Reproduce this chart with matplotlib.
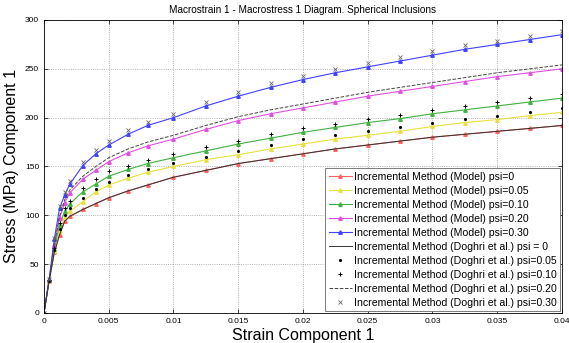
import matplotlib
matplotlib.use('Agg')
import matplotlib.pyplot as plt

plt.rcParams['font.family'] = ['Liberation Sans', 'DejaVu Sans']

# Strain points
strain = [0, 0.0004, 0.0008, 0.0012, 0.0016, 0.002, 0.003, 0.004, 0.005, 0.0065, 0.008,
          0.01, 0.0125, 0.015, 0.0175, 0.02, 0.0225, 0.025, 0.0275, 0.03, 0.0325, 0.035,
          0.0375, 0.04]

# Incremental Method (Model)
model_psi0 = [0, 33, 62, 80, 94, 99, 106, 112, 118, 125, 131, 139, 146, 153, 158, 163, 168,
              172, 176, 180, 183, 186, 189, 192]
model_psi005 = [0, 33, 63, 84, 98, 104, 114, 124, 131, 138, 144, 150, 157, 162, 168, 173, 178,
                182, 186, 191, 195, 198, 202, 205.5]
model_psi010 = [0, 34, 66, 90, 104, 112, 124, 132, 140, 147, 153, 159, 166, 173, 179, 185, 190,
                195, 199, 204, 208, 212, 216, 220]
model_psi020 = [0, 34, 70, 97, 113, 123, 137, 146, 155, 164, 171, 178, 188, 197, 204, 210, 216,
                222, 227, 232, 237, 242, 246, 250]
model_psi030 = [0, 35, 76, 107, 121, 132, 151, 163, 172, 183, 192, 200, 212, 222, 231, 239, 246,
                252, 258, 264, 270, 275, 280, 285]

# Incremental Method (Doghri et al.)
doghri_psi0 = [0, 33, 62, 80, 94, 99, 106, 112, 118, 125, 131, 139, 146, 153, 158, 163, 168,
               172, 176, 180, 183, 186, 189, 192]
doghri_psi005 = [0, 33, 64, 86, 100, 107, 118, 127, 134, 141, 147, 154, 160, 166, 172, 178, 182,
                 186, 190, 195, 199, 202, 206, 209.5]
doghri_psi010 = [0, 34, 67, 92, 107, 115, 128, 137, 145, 151, 157, 163, 170, 176, 183, 189, 194,
                 199, 203, 208, 212, 216, 220, 224]
doghri_psi020 = [0, 34, 71, 99, 116, 126, 140, 150, 159, 168, 175, 182, 192, 201, 208, 214, 220,
                 226, 231, 236, 241, 246, 250, 254]
doghri_psi030 = [0, 35, 77, 110, 124, 135, 155, 167, 176, 187, 196, 204, 216, 226, 235, 243, 250,
                 256, 262, 268, 274, 279, 284, 289]

xticks = [0, 0.005, 0.01, 0.015, 0.02, 0.025, 0.03, 0.035, 0.04]
xticklabels = ['0', '0.005', '0.01', '0.015', '0.02', '0.025', '0.03', '0.035', '0.04']
yticks = [0, 50, 100, 150, 200, 250, 300]

fig = plt.figure(figsize=(5.69, 3.43), dpi=100)
ax = fig.add_axes([0.0773, 0.0875, 0.9104, 0.8542])

ms = 2.5
ax.plot(strain, model_psi0, '-^', color='#ff6060', lw=0.8, ms=ms, label='Incremental Method (Model) psi=0')
ax.plot(strain, model_psi005, '-^', color='#e6e040', lw=0.8, ms=ms, label='Incremental Method (Model) psi=0.05')
ax.plot(strain, model_psi010, '-^', color='#40b040', lw=0.8, ms=ms, label='Incremental Method (Model) psi=0.10')
ax.plot(strain, model_psi020, '-^', color='#e050e0', lw=0.8, ms=ms, label='Incremental Method (Model) psi=0.20')
ax.plot(strain, model_psi030, '-^', color='#4040ff', lw=0.8, ms=ms, label='Incremental Method (Model) psi=0.30')

ax.plot(strain, doghri_psi0, '-', color='#333333', lw=0.7, label='Incremental Method (Doghri et al.) psi = 0')
ax.plot(strain, doghri_psi005, '.', color='black', ms=2.5, label='Incremental Method (Doghri et al.) psi=0.05')
ax.plot(strain, doghri_psi010, '+', color='black', ms=2.8, mew=0.7, label='Incremental Method (Doghri et al.) psi=0.10')
ax.plot(strain, doghri_psi020, '--', color='#444444', lw=0.7, label='Incremental Method (Doghri et al.) psi=0.20')
ax.plot(strain, doghri_psi030, 'x', color='#666666', ms=2.5, mew=0.6, label='Incremental Method (Doghri et al.) psi=0.30')

ax.set_xlim(0, 0.04)
ax.set_ylim(0, 300)
ax.set_xticks(xticks)
ax.set_xticklabels(xticklabels)
ax.set_yticks(yticks)
ax.tick_params(direction='in', top=True, right=True, labelsize=6, length=3, width=0.5)
ax.grid(True, linestyle=':', color='#999999', lw=0.6)
for s in ax.spines.values():
    s.set_linewidth(0.6)

ax.set_title('Macrostrain 1 - Macrostress 1 Diagram. Spherical Inclusions', fontsize=7.2, pad=5)
ax.set_xlabel('Strain Component 1', fontsize=11.5, labelpad=2)
ax.set_ylabel('Stress (MPa) Component 1', fontsize=11.5, labelpad=4)

leg = ax.legend(loc='lower right', fontsize=7.6, labelspacing=0.38, handlelength=2.2,
                handletextpad=0.2, borderpad=0.3, fancybox=False, edgecolor='#666666',
                framealpha=1, borderaxespad=0.2)
leg.get_frame().set_linewidth(0.6)

fig.savefig('out.png', dpi=100)
